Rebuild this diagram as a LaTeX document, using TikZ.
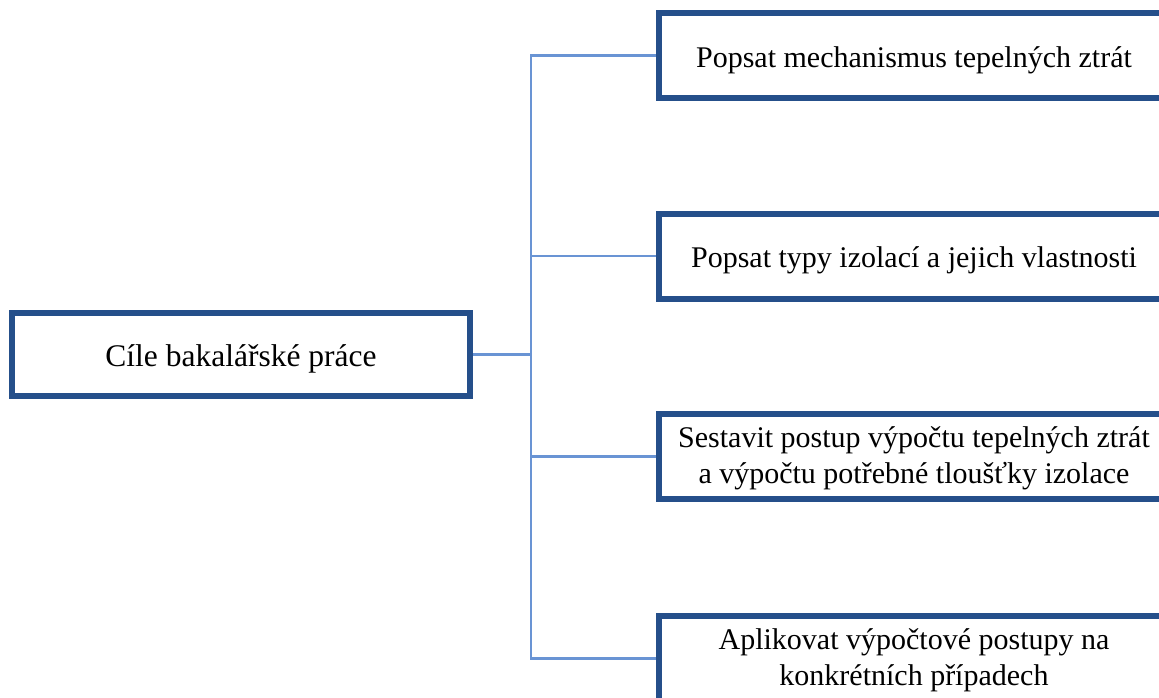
\documentclass[tikz,border=0pt]{standalone}
\usepackage{fontspec}
\setmainfont{Liberation Serif}
\definecolor{boxblue}{RGB}{37,79,138}
\definecolor{linkblue}{RGB}{105,148,212}
\begin{document}
\begin{tikzpicture}[x=1pt,y=-1pt,
  goalbox/.style={draw=boxblue,line width=6pt,fill=white,rectangle,align=center,
    minimum width=510pt,minimum height=85pt,inner sep=0pt,
    font=\fontsize{30}{36.5}\selectfont},
  mainbox/.style={draw=boxblue,line width=6pt,fill=white,rectangle,align=center,
    minimum width=458pt,minimum height=82.5pt,inner sep=0pt,
    font=\fontsize{31.5}{36}\selectfont},
  link/.style={draw=linkblue,line width=2.4pt}]
\useasboundingbox (0,0) rectangle (1159,697);
\node[mainbox] (main) at (241,354.5) {\rule{0pt}{30.5pt}Cíle bakalářské práce};
\coordinate (j) at (531,354.5);
\node[goalbox] (g1) at (914,55.5) {\rule{0pt}{29.5pt}Popsat mechanismus tepelných ztrát};
\node[goalbox] (g2) at (914,256) {\rule{0pt}{29.5pt}Popsat typy izolací a jejich vlastnosti};
\node[goalbox] (g3) at (914,456.5) {\rule{0pt}{24.5pt}Sestavit postup výpočtu tepelných ztrát\\a výpočtu potřebné tloušťky izolace};
\node[goalbox] (g4) at (914,658.5) {\rule{0pt}{24.5pt}Aplikovat výpočtové postupy na\\konkrétních případech};
\draw[link] (main.east) -- (j);
\draw[link] (g1.west) -| (j);
\draw[link] (g2.west) -| (j);
\draw[link] (g3.west) -| (j);
\draw[link] (g4.west) -| (j);
\end{tikzpicture}
\end{document}
